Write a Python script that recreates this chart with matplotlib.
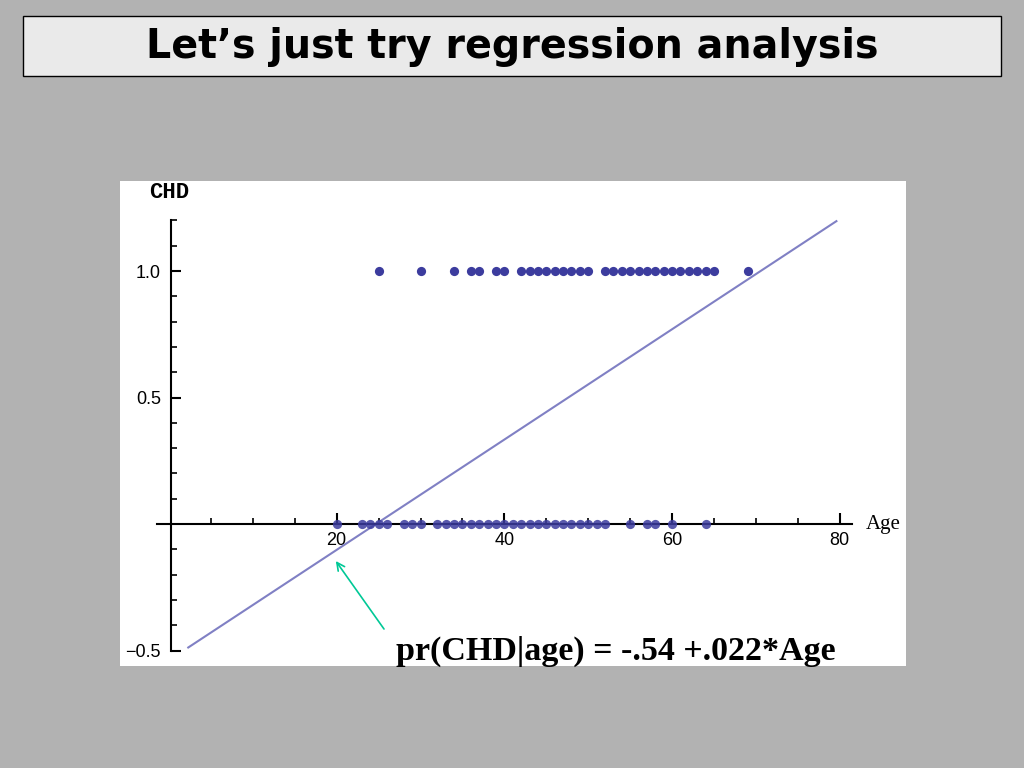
import matplotlib
matplotlib.use("Agg")
import matplotlib.pyplot as plt
import numpy as np
from matplotlib.patches import Rectangle
from matplotlib.ticker import FixedLocator, NullFormatter

# Data (Hosmer-Lemeshow CHD vs Age; distinct ages per outcome)
ages_chd1 = [25, 30, 34, 36, 37, 39, 40, 42, 43, 44, 45, 46, 47, 48, 49, 50,
             52, 53, 54, 55, 56, 57, 58, 59, 60, 61, 62, 63, 64, 65, 69]
ages_chd0 = [20, 23, 24, 25, 26, 28, 29, 30, 32, 33, 34, 35, 36, 37, 38, 39,
             40, 41, 42, 43, 44, 45, 46, 47, 48, 49, 50, 51, 52, 55, 57, 58,
             60, 64]
intercept = -0.538
slope = 0.0218
line_age_range = [2.3, 79.6]
x_major = [20, 40, 60, 80]
y_major = [-0.5, 0.5, 1.0]
y_major_labels = ["\u22120.5", "0.5", "1.0"]

W, H = 1024, 768
fig = plt.figure(figsize=(W / 100, H / 100), dpi=100, facecolor="#B2B2B2")

# Title box
fig.patches.append(Rectangle((23 / W, 1 - 76 / H), (1001 - 23) / W, 60 / H,
                             transform=fig.transFigure, facecolor="#EAEAEA",
                             edgecolor="black", linewidth=1.0))
fig.text(512.5 / W, 1 - 47 / H, "Let\u2019s just try regression analysis",
         ha="center", va="center", fontsize=28.5, fontweight="bold",
         family="DejaVu Sans", color="black")

# Plot panel
ax = fig.add_axes([120 / W, 1 - 666 / H, 786 / W, 485 / H])
ax.set_facecolor("white")
ax.set_xlim(-5.84, 87.9)
ax.set_ylim(-0.561, 1.356)

for s in ["top", "right"]:
    ax.spines[s].set_visible(False)
ax.spines["left"].set_position(("data", 0.2))
ax.spines["bottom"].set_position(("data", 0))
ax.spines["left"].set_bounds(-0.5, 1.2)
ax.spines["bottom"].set_bounds(-1.4, 81.5)
for s in ["left", "bottom"]:
    ax.spines[s].set_linewidth(1.5)
    ax.spines[s].set_color("black")

ax.xaxis.set_major_locator(FixedLocator(x_major))
ax.xaxis.set_minor_locator(FixedLocator([v for v in range(5, 81, 5) if v not in x_major]))
ax.set_xticklabels([str(v) for v in x_major])
ax.yaxis.set_major_locator(FixedLocator(y_major))
ax.set_yticklabels(y_major_labels)
minor_y = [round(v, 1) for v in np.arange(-0.4, 1.21, 0.1) if round(v, 1) not in y_major and round(v, 1) != 0.0]
ax.yaxis.set_minor_locator(FixedLocator(minor_y))
ax.yaxis.set_minor_formatter(NullFormatter())

ax.tick_params(axis="x", which="major", direction="in", length=8, width=1.5,
               labelsize=13, pad=6)
ax.tick_params(axis="x", which="minor", direction="in", length=4, width=1.2)
ax.tick_params(axis="y", which="major", direction="in", length=7, width=1.5,
               labelsize=13, pad=7)
ax.tick_params(axis="y", which="minor", direction="in", length=4.5, width=1.2)
for lab in ax.get_xticklabels() + ax.get_yticklabels():
    lab.set_family("Liberation Sans")

# Regression line
xl = np.array(line_age_range)
ax.plot(xl, intercept + slope * xl, color="#8080C4", linewidth=1.5, zorder=2)

# Points
ax.scatter(ages_chd1, [1] * len(ages_chd1), s=44, color="#3C3C9E", zorder=3,
           linewidths=0)
ax.scatter(ages_chd0, [0] * len(ages_chd0), s=44, color="#3C3C9E", zorder=3,
           linewidths=0, alpha=0.85)

# Axis labels
fig.text(169 / W, 1 - 193 / H, "CHD", ha="center", va="center",
         family="Liberation Mono", fontsize=16, fontweight="bold")
fig.text(866 / W, 1 - 524 / H, "Age", ha="left", va="center",
         family="Liberation Serif", fontsize=15)

# Annotation
ax.annotate("", xy=(19.9, -0.146), xycoords="data",
            xytext=(384 / W, 1 - 629 / H), textcoords="figure fraction",
            arrowprops=dict(arrowstyle="->", color="#00C896", lw=1.2,
                            mutation_scale=14, shrinkA=0, shrinkB=0))
fig.text(615.5 / W, 1 - 651 / H, "pr(CHD|age) = -.54 +.022*Age",
         ha="center", va="center", family="Liberation Serif",
         fontweight="bold", fontsize=24.5, color="black")

fig.savefig("out.png", dpi=100, facecolor=fig.get_facecolor())
